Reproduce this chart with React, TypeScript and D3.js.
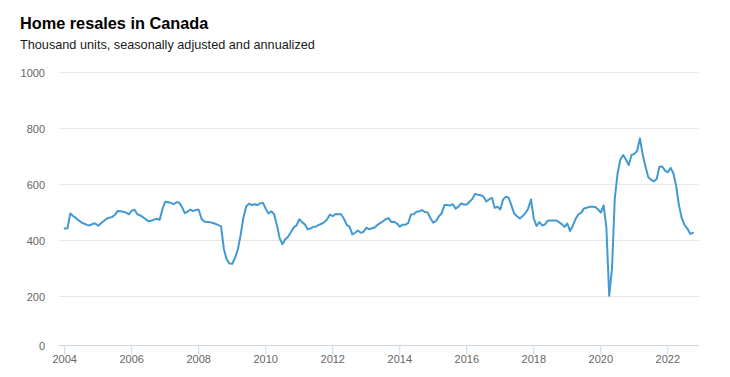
import React from "react";
import * as d3 from "d3";

const title = "Home resales in Canada";
const subtitle = "Thousand units, seasonally adjusted and annualized";

const startYear = 2004; // first observation: January 2004, monthly
const resales: number[] = [
  // 2004
  443, 444, 497, 488, 481, 472, 465, 460, 456, 454, 460, 461,
  // 2005
  453, 462, 470, 478, 482, 484, 492, 506, 505, 503, 500, 494,
  // 2006
  507, 510, 494, 490, 484, 476, 469, 471, 475, 478, 474, 512,
  // 2007
  539, 537, 535, 530, 537, 536, 520, 498, 503, 511, 505, 510,
  // 2008
  510, 478, 468, 466, 466, 463, 460, 455, 451, 370, 333, 318,
  // 2009
  317, 338, 368, 420, 482, 522, 532, 527, 530, 527, 533, 535,
  // 2010
  513, 497, 505, 494, 455, 408, 387, 405, 414, 430, 447, 454,
  // 2011
  476, 466, 458, 440, 443, 449, 450, 456, 460, 466, 476, 493,
  // 2012
  487, 495, 494, 494, 478, 456, 450, 422, 428, 436, 428, 431,
  // 2013
  446, 440, 444, 447, 456, 462, 469, 477, 480, 466, 467, 461,
  // 2014
  450, 457, 457, 462, 493, 494, 503, 505, 509, 502, 500, 480,
  // 2015
  464, 470, 487, 497, 527, 527, 525, 530, 514, 521, 533, 529,
  // 2016
  529, 539, 549, 567, 564, 562, 557, 540, 547, 553, 517, 521,
  // 2017
  511, 547, 557, 553, 525, 496, 487, 479, 488, 498, 515, 547,
  // 2018
  478, 452, 466, 454, 458, 471, 472, 472, 472, 466, 459, 449,
  // 2019
  461, 434, 454, 478, 494, 500, 515, 517, 521, 521, 520, 511,
  // 2020
  500, 526, 445, 203, 300, 550, 640, 690, 706, 690, 670, 706,
  // 2021
  710, 720, 766, 707, 665, 626, 617, 612, 620, 664, 665, 650,
  // 2022
  644, 660, 640, 594, 525, 480, 455, 443, 424, 428,
];

const yTicks = [0, 200, 400, 600, 800, 1000];
const xTicks = [2004, 2006, 2008, 2010, 2012, 2014, 2016, 2018, 2020, 2022];

const W = 730;
const H = 377;
const plot = { left: 59, right: 699, top: 72.7, bottom: 345.5 };

export default function App() {
  const x = d3
    .scaleLinear()
    .domain([2003.83, 2022.93])
    .range([plot.left, plot.right]);
  const y = d3
    .scaleLinear()
    .domain([25, 1000])
    .range([plot.bottom, plot.top]);

  const pts = resales.map((v, i) => ({ t: startYear + i / 12, v }));
  const line = d3
    .line<{ t: number; v: number }>()
    .x((d) => x(d.t))
    .y((d) => y(d.v))
    .curve(d3.curveLinear);

  const yPos = (v: number) => y(Math.max(v, y.domain()[0]));

  return (
    <div style={{ position: "absolute", left: 0, top: 0 }}>
      <svg
        width={W}
        height={H}
        style={{ display: "block", fontFamily: "'Liberation Sans', Arial, sans-serif" }}
      >
        <rect width={W} height={H} fill="#ffffff" />
        <text x={20} y={29} fontSize={16.3} fontWeight="bold" fill="#000">
          {title}
        </text>
        <text x={20} y={49} fontSize={12.7} fill="#1a1a1a">
          {subtitle}
        </text>

        {yTicks.map((v) => (
          <g key={v}>
            {v > 0 && (
              <line
                x1={plot.left}
                x2={plot.right}
                y1={yPos(v)}
                y2={yPos(v)}
                stroke="#e6e6e6"
                strokeWidth={1}
              />
            )}
            <text
              x={45}
              y={yPos(v) + 4}
              textAnchor="end"
              fontSize={11}
              fill="#666666"
            >
              {v}
            </text>
          </g>
        ))}

        <line
          x1={plot.left}
          x2={plot.right}
          y1={plot.bottom}
          y2={plot.bottom}
          stroke="#ccd6eb"
          strokeWidth={1}
        />
        {xTicks.map((t) => (
          <g key={t}>
            <line
              x1={x(t)}
              x2={x(t)}
              y1={plot.bottom}
              y2={plot.bottom + 9}
              stroke="#ccd6eb"
              strokeWidth={1}
            />
            <text
              x={x(t)}
              y={363}
              textAnchor="middle"
              fontSize={11}
              fill="#666666"
            >
              {t}
            </text>
          </g>
        ))}

        <path
          d={line(pts) || ""}
          fill="none"
          stroke="#4399d2"
          strokeWidth={2}
          strokeLinejoin="round"
          strokeLinecap="round"
        />
      </svg>
    </div>
  );
}
